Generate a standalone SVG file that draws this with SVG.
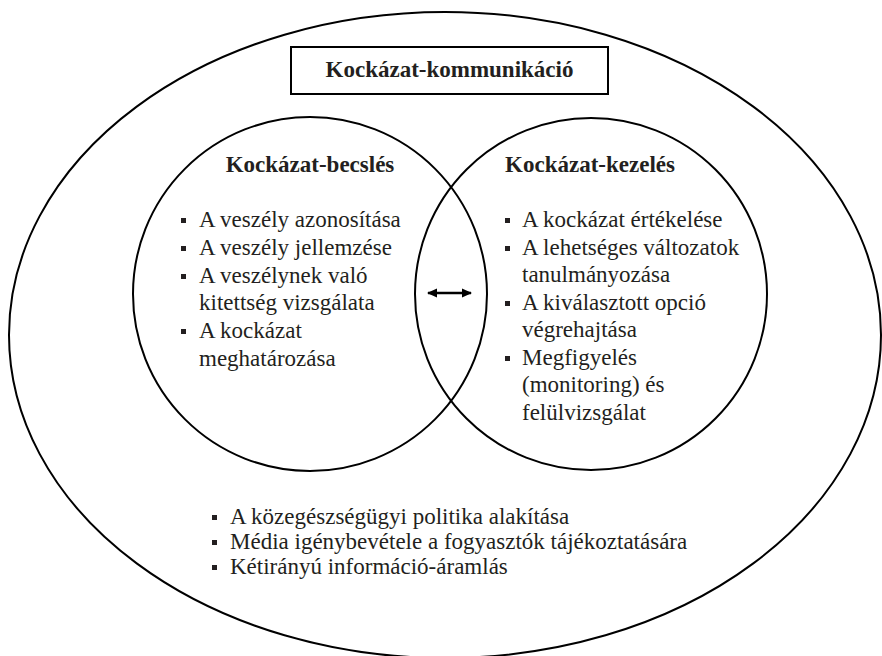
<svg xmlns="http://www.w3.org/2000/svg" width="882" height="656" viewBox="0 0 882 656">
<style>
.shape{fill:none;stroke:#000;stroke-width:2}
.h{font-family:'Liberation Serif','Times New Roman',Tinos,'DejaVu Serif',serif;font-weight:bold;font-size:23px;fill:#231f20;text-anchor:middle}
.t{font-family:'Liberation Serif','Times New Roman',Tinos,'DejaVu Serif',serif;font-size:23px;fill:#231f20}
.b{fill:#231f20}
</style>
<defs>
<marker id="ah" viewBox="0 0 10 10" refX="9" refY="5" markerWidth="10" markerHeight="10" markerUnits="userSpaceOnUse" orient="auto-start-reverse">
<path d="M0,0.5 L10,5 L0,9.5 Z" fill="#000"/>
</marker>
</defs>
<rect width="882" height="656" fill="#fff"/>
<g id="communication">
<ellipse class="shape" cx="445" cy="335" rx="436" ry="323"/>
<rect class="shape" x="291" y="47" width="317" height="47"/>
<text class="h" x="449.5" y="77">Kockázat-kommunikáció</text>
<rect class="b" x="212" y="515" width="5" height="5"/>
<rect class="b" x="212" y="540" width="5" height="5"/>
<rect class="b" x="212" y="565" width="5" height="5"/>
<text class="t" x="230" y="524">A közegészségügyi politika alakítása</text>
<text class="t" x="230" y="549">Média igénybevétele a fogyasztók tájékoztatására</text>
<text class="t" x="230" y="574">Kétirányú információ-áramlás</text>
</g>
<g id="assessment">
<circle class="shape" cx="310" cy="294" r="177"/>
<text class="h" x="310" y="172">Kockázat-becslés</text>
<rect class="b" x="181" y="218" width="5" height="5"/>
<rect class="b" x="181" y="246" width="5" height="5"/>
<rect class="b" x="181" y="274" width="5" height="5"/>
<rect class="b" x="181" y="329" width="5" height="5"/>
<text class="t" x="199" y="227">A veszély azonosítása</text>
<text class="t" x="199" y="255">A veszély jellemzése</text>
<text class="t" x="199" y="283">A veszélynek való</text>
<text class="t" x="199" y="310">kitettség vizsgálata</text>
<text class="t" x="199" y="338">A kockázat</text>
<text class="t" x="199" y="366">meghatározása</text>
</g>
<g id="management">
<circle class="shape" cx="591" cy="294" r="176"/>
<text class="h" x="590" y="172">Kockázat-kezelés</text>
<rect class="b" x="505" y="218" width="5" height="5"/>
<rect class="b" x="505" y="246" width="5" height="5"/>
<rect class="b" x="505" y="301" width="5" height="5"/>
<rect class="b" x="505" y="356" width="5" height="5"/>
<text class="t" x="522" y="227">A kockázat értékelése</text>
<text class="t" x="522" y="255">A lehetséges változatok</text>
<text class="t" x="522" y="282">tanulmányozása</text>
<text class="t" x="522" y="310">A kiválasztott opció</text>
<text class="t" x="522" y="337">végrehajtása</text>
<text class="t" x="522" y="365">Megfigyelés</text>
<text class="t" x="522" y="392">(monitoring) és</text>
<text class="t" x="522" y="420">felülvizsgálat</text>
</g>
<g id="connectors">
<line x1="428" y1="293" x2="471" y2="293" stroke="#000" stroke-width="2.5" marker-start="url(#ah)" marker-end="url(#ah)"/>
</g>
</svg>
